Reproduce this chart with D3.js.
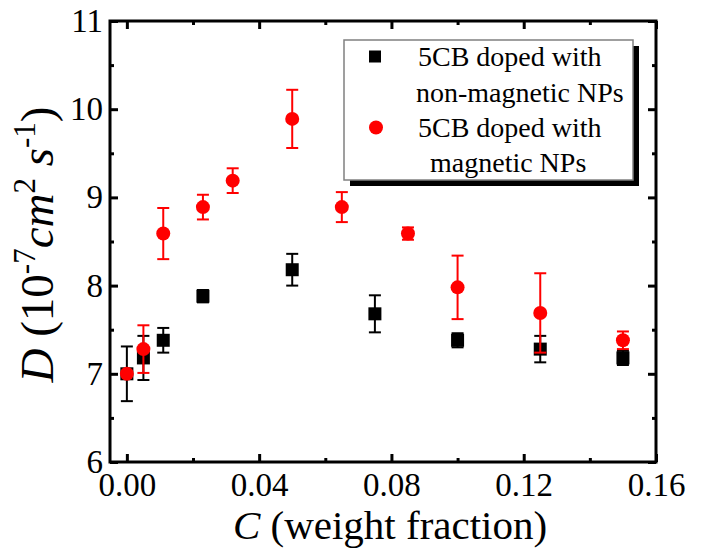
<!DOCTYPE html>
<html>
<head>
<meta charset="utf-8">
<script src="https://cdn.jsdelivr.net/npm/d3@7"></script>
</head>
<body style="margin:0;background:#fff">
<svg id="chart" width="704" height="548" style="display:block"></svg>
<script>
// ---- data ----
const blackX   = [0, 0.005, 0.011, 0.023, 0.05, 0.075, 0.1, 0.125, 0.15];
const blackY   = [7.0, 7.18, 7.38, 7.88, 8.18, 7.68, 7.38, 7.28, 7.18];
const blackErr = [0.31, 0.25, 0.14, 0.07, 0.18, 0.21, 0.08, 0.15, 0.08];

const redX   = [0, 0.005, 0.011, 0.023, 0.032, 0.05, 0.065, 0.085, 0.1, 0.125, 0.15];
const redY   = [7.0, 7.28, 8.59, 8.89, 9.19, 9.89, 8.89, 8.59, 7.98, 7.69, 7.38];
const redErr = [0.0, 0.27, 0.29, 0.14, 0.14, 0.33, 0.17, 0.07, 0.36, 0.45, 0.10];

const xTicks = [0, 0.04, 0.08, 0.12, 0.16];
const xMinor = [0.02, 0.06, 0.10, 0.14];
const yTicks = [6, 7, 8, 9, 10, 11];
const yMinor = [6.5, 7.5, 8.5, 9.5, 10.5];

const legendLabels = [["5CB doped with", "non-magnetic NPs"], ["5CB doped with", "magnetic NPs"]];

// ---- layout ----
const FONT = "'Liberation Serif', 'Times New Roman', serif";
const L = 110, R = 656, T = 21, B = 462;
const svg = d3.select("#chart");
const x = d3.scaleLinear().domain([-0.0051, 0.16]).range([L, R]);
const y = d3.scaleLinear().domain([6, 11]).range([B, T]);

const tickFont = 33;
function serif(sel) { return sel.style("font-family", FONT, "important"); }

function styleAxis(g) {
  g.select(".domain").remove();
  g.attr("font-family", null);
  g.selectAll(".tick line").attr("stroke", "#000").attr("stroke-width", 3);
  g.selectAll(".tick text").attr("fill", "#000").attr("font-size", tickFont).call(serif);
}

svg.append("g").attr("transform", `translate(0,${B})`)
  .call(d3.axisBottom(x).tickValues(xTicks).tickSize(-8).tickPadding(11).tickFormat(d3.format(".2f")))
  .call(styleAxis);
svg.append("g").attr("transform", `translate(0,${B})`)
  .call(d3.axisBottom(x).tickValues(xMinor).tickSize(-4).tickFormat(""))
  .call(styleAxis);
svg.append("g").attr("transform", `translate(0,${T})`)
  .call(d3.axisTop(x).tickValues(xTicks).tickSize(-8).tickFormat(""))
  .call(styleAxis);
svg.append("g").attr("transform", `translate(0,${T})`)
  .call(d3.axisTop(x).tickValues(xMinor).tickSize(-4).tickFormat(""))
  .call(styleAxis);
svg.append("g").attr("transform", `translate(${L},0)`)
  .call(d3.axisLeft(y).tickValues(yTicks).tickSize(-8).tickPadding(7).tickFormat(d3.format("d")))
  .call(styleAxis);
svg.append("g").attr("transform", `translate(${L},0)`)
  .call(d3.axisLeft(y).tickValues(yMinor).tickSize(-4).tickFormat(""))
  .call(styleAxis);
svg.append("g").attr("transform", `translate(${R},0)`)
  .call(d3.axisRight(y).tickValues(yTicks).tickSize(-8).tickFormat(""))
  .call(styleAxis);
svg.append("g").attr("transform", `translate(${R},0)`)
  .call(d3.axisRight(y).tickValues(yMinor).tickSize(-4).tickFormat(""))
  .call(styleAxis);

svg.append("rect").attr("x", L).attr("y", T).attr("width", R - L).attr("height", B - T)
  .attr("fill", "none").attr("stroke", "#000").attr("stroke-width", 3);

function drawErr(xs, ys, es, color) {
  const g = svg.append("g").attr("stroke", color).attr("stroke-width", 2);
  xs.forEach((xv, i) => {
    if (!es[i]) return;
    const cx = x(xv), y1 = y(ys[i] - es[i]), y2 = y(ys[i] + es[i]);
    g.append("line").attr("x1", cx).attr("x2", cx).attr("y1", y1).attr("y2", y2);
    g.append("line").attr("x1", cx - 6).attr("x2", cx + 6).attr("y1", y1).attr("y2", y1);
    g.append("line").attr("x1", cx - 6).attr("x2", cx + 6).attr("y1", y2).attr("y2", y2);
  });
}

drawErr(blackX, blackY, blackErr, "#000");
svg.append("g").selectAll("rect").data(blackX).join("rect")
  .attr("x", (d) => x(d) - 6.5).attr("y", (d, i) => y(blackY[i]) - 6.5)
  .attr("width", 13).attr("height", 13).attr("fill", "#000");

drawErr(redX, redY, redErr, "#ff0000");
svg.append("g").selectAll("circle").data(redX).join("circle")
  .attr("cx", (d) => x(d)).attr("cy", (d, i) => y(redY[i]))
  .attr("r", 7).attr("fill", "#ff0000");

// ---- legend ----
const lg = svg.append("g");
lg.append("rect").attr("x", 350).attr("y", 46).attr("width", 289).attr("height", 140).attr("fill", "#000");
lg.append("rect").attr("x", 344).attr("y", 40).attr("width", 289).attr("height", 140)
  .attr("fill", "#fff").attr("stroke", "#808080").attr("stroke-width", 1.5);
lg.append("rect").attr("x", 369).attr("y", 50.5).attr("width", 12).attr("height", 12).attr("fill", "#000");
lg.append("circle").attr("cx", 376).attr("cy", 127.5).attr("r", 7).attr("fill", "#ff0000");
const legFont = 28;
const lines = [
  {t: legendLabels[0][0], x: 418, y: 66},
  {t: legendLabels[0][1], x: 416, y: 102},
  {t: legendLabels[1][0], x: 418, y: 137},
  {t: legendLabels[1][1], x: 430, y: 172}
];
lg.selectAll("text").data(lines).join("text")
  .attr("x", d => d.x).attr("y", d => d.y).attr("font-size", legFont).call(serif).text(d => d.t);

// ---- axis titles ----
const xt = svg.append("text").attr("x", 390).attr("y", 539).attr("text-anchor", "middle")
  .attr("font-size", 41).call(serif);
xt.append("tspan").attr("font-style", "italic").text("C");
xt.append("tspan").text(" (weight fraction)");

const yt = svg.append("text").attr("transform", `translate(53,${(T + B) / 2 + 3}) rotate(-90)`)
  .attr("text-anchor", "middle").attr("font-size", 47).call(serif);
yt.append("tspan").attr("font-style", "italic").text("D");
yt.append("tspan").text(" (10");
yt.append("tspan").attr("font-size", 31).attr("dy", -18).text("-7");
yt.append("tspan").attr("font-style", "italic").attr("dy", 18).text("cm");
yt.append("tspan").attr("font-size", 31).attr("dy", -18).text("2");
yt.append("tspan").attr("dy", 18).text(" ");
yt.append("tspan").attr("font-style", "italic").text("s");
yt.append("tspan").attr("font-size", 31).attr("dy", -18).text("-1");
yt.append("tspan").attr("dy", 18).text(")");
</script>
</body>
</html>
